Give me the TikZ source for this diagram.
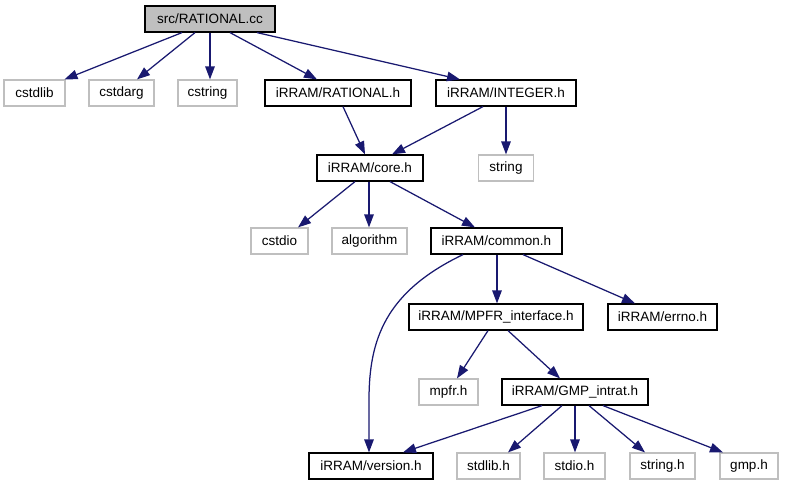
\documentclass[tikz,border=0pt]{standalone}
\usepackage{fontspec}
\setmainfont{Liberation Sans}
\usetikzlibrary{arrows.meta}
\definecolor{edgec}{HTML}{191970}
\definecolor{greyb}{HTML}{BFBFBF}
\tikzset{
  base/.style={rectangle, inner sep=0pt, minimum height=26pt, line width=1.2pt, font=\fontsize{13.5}{16}\selectfont, text=black},
  blackbox/.style={base, draw=black},
  greybox/.style={base, draw=greyb},
  mainbox/.style={base, draw=black, fill=greyb},
  dep/.style={draw=edgec, line width=1.25pt, -{Triangle[length=13pt,width=9.5pt]}, edgec}
}
\begin{document}
\begin{tikzpicture}[x=1pt,y=-1pt]
\useasboundingbox (0,0) rectangle (785,485);
% row 1
\node[mainbox, minimum width=130pt] (src) at (210,19) {src/RATIONAL.cc};
% row 2
\node[greybox, minimum width=61pt] (cstdlib) at (34.5,93) {cstdlib};
\node[greybox, minimum width=65pt] (cstdarg) at (121.5,93) {cstdarg};
\node[greybox, minimum width=59pt] (cstring) at (207.5,93) {cstring};
\node[blackbox, minimum width=146pt] (rational) at (338,93) {iRRAM/RATIONAL.h};
\node[blackbox, minimum width=140pt] (integer) at (506,93) {iRRAM/INTEGER.h};
% row 3
\node[blackbox, minimum width=106pt] (core) at (370,168) {iRRAM/core.h};
\node[greybox, minimum width=55pt] (string) at (506,168) {string};
% row 4
\node[greybox, minimum width=57pt] (cstdio) at (279.5,241) {cstdio};
\node[greybox, minimum width=75pt] (algorithm) at (369.5,241) {algorithm};
\node[blackbox, minimum width=131pt] (common) at (496.5,241) {iRRAM/common.h};
% row 5
\node[blackbox, minimum width=174pt] (mpfrif) at (496,317) {iRRAM/MPFR\_interface.h};
\node[blackbox, minimum width=109pt] (errno) at (662.5,317) {iRRAM/errno.h};
% row 6
\node[greybox, minimum width=59pt] (mpfr) at (448.5,392) {mpfr.h};
\node[blackbox, minimum width=146pt] (gmpint) at (575,392) {iRRAM/GMP\_intrat.h};
% row 7
\node[blackbox, minimum width=124pt] (version) at (371,466) {iRRAM/version.h};
\node[greybox, minimum width=63pt] (stdlib) at (488.5,466) {stdlib.h};
\node[greybox, minimum width=61pt] (stdio) at (574.5,466) {stdio.h};
\node[greybox, minimum width=65pt] (stringh) at (662.5,466) {string.h};
\node[greybox, minimum width=58pt] (gmp) at (749,466) {gmp.h};
% edges
\draw[dep] ([xshift=-28pt]src.south) -- ([xshift=30pt]cstdlib.north);
\draw[dep] ([xshift=-15pt]src.south) -- ([xshift=15.5pt]cstdarg.north);
\draw[dep] (src.south) -- ([xshift=2.5pt]cstring.north);
\draw[dep] ([xshift=20pt]src.south) -- ([xshift=-21pt]rational.north);
\draw[dep] ([xshift=47pt]src.south) -- ([xshift=-46pt]integer.north);
\draw[dep] ([xshift=5pt]rational.south) -- ([xshift=-5pt]core.north);
\draw[dep] ([xshift=-23pt]integer.south) -- ([xshift=22pt]core.north);
\draw[dep] (integer.south) -- (string.north);
\draw[dep] ([xshift=-15pt]core.south) -- ([xshift=18.5pt]cstdio.north);
\draw[dep] ([xshift=-1pt]core.south) -- ([xshift=-0.5pt]algorithm.north);
\draw[dep] ([xshift=20pt]core.south) -- ([xshift=-21.5pt]common.north);
\draw[dep] ([xshift=0.5pt]common.south) -- ([xshift=1pt]mpfrif.north);
\draw[dep] ([xshift=26.5pt]common.south) -- ([xshift=-27.5pt]errno.north);
\draw[dep] ([xshift=-33.5pt]common.south) .. controls (385,292) and (369,340) .. (369,400) -- ([xshift=-2pt]version.north);
\draw[dep] ([xshift=-8pt]mpfrif.south) -- ([xshift=8.5pt]mpfr.north);
\draw[dep] ([xshift=12pt]mpfrif.south) -- ([xshift=-15pt]gmpint.north);
\draw[dep] ([xshift=-33pt]gmpint.south) -- ([xshift=32pt]version.north);
\draw[dep] ([xshift=-13pt]gmpint.south) -- ([xshift=19.5pt]stdlib.north);
\draw[dep] (gmpint.south) -- ([xshift=0.5pt]stdio.north);
\draw[dep] ([xshift=14pt]gmpint.south) -- ([xshift=-17.5pt]stringh.north);
\draw[dep] ([xshift=28pt]gmpint.south) -- ([xshift=-26pt]gmp.north);
\end{tikzpicture}
\end{document}
